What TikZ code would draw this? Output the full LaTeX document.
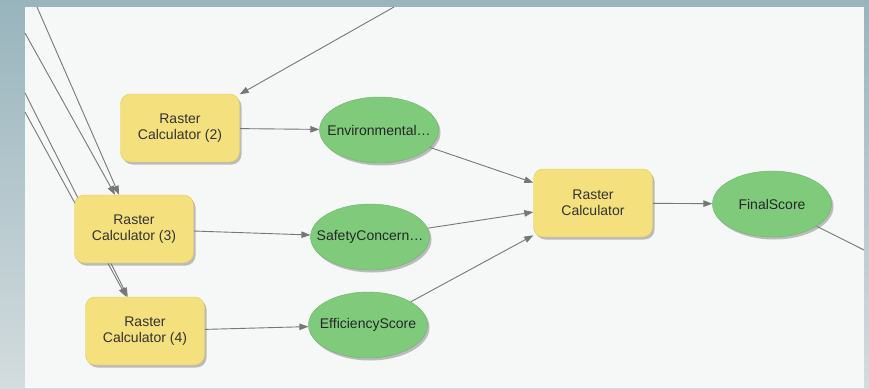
\documentclass[tikz,border=0pt]{standalone}
\usepackage{fontspec}
\setmainfont{Liberation Sans}
\usetikzlibrary{shapes.geometric,arrows.meta,shadows}
\pgfdeclarelayer{frame}
\pgfdeclarelayer{edges}
\pgfsetlayers{frame,edges,main}
\definecolor{calcfill}{HTML}{F4E07C}
\definecolor{calcline}{HTML}{E0C95C}
\definecolor{datafill}{HTML}{7FCB7B}
\definecolor{dataline}{HTML}{6AB566}
\definecolor{linkgray}{HTML}{777777}
\definecolor{paper}{HTML}{F6F7F7}
\definecolor{frametop}{HTML}{98B4BD}
\definecolor{framebot}{HTML}{D3DCDE}
% ellipse label that does not widen its ellipse
\newcommand{\datalabel}[1]{\makebox[0pt][c]{#1}}

\begin{document}
\begin{tikzpicture}[x=1pt, y=-1pt,
    font=\fontsize{14}{16}\selectfont,
    tool/.style={rectangle, rounded corners=10pt, fill=calcfill, draw=calcline,
        align=center, minimum width=119pt, minimum height=68pt, text=black!80,
        drop shadow={shadow xshift=2pt, shadow yshift=-2.5pt, fill=black!50, opacity=0.5}},
    data/.style={ellipse, fill=datafill, draw=dataline, inner sep=0pt,
        minimum width=119pt, minimum height=66pt, text=black!85,
        drop shadow={shadow xshift=2pt, shadow yshift=-2.5pt, fill=black!50, opacity=0.5}},
    link/.style={draw=linkgray, line width=0.9pt, -{Triangle[length=9pt,width=6.5pt]}},
    tail/.style={draw=linkgray, line width=0.9pt}]
    \useasboundingbox (0,0) rectangle (869,388);

    % frame and model panel
    \begin{pgfonlayer}{frame}
        \shade[top color=frametop, bottom color=framebot] (0,0) rectangle (869,388);
        \fill[paper] (25,7) rectangle (864,388);
    \end{pgfonlayer}

    \node[tool] (calc2) at (180,128) {Raster\\Calculator (2)};
    \node[tool] (calc3) at (134,229) {Raster\\Calculator (3)};
    \node[tool] (calc4) at (145,331) {Raster\\Calculator (4)};
    \node[data] (env) at (379,130) {\datalabel{Environmental…}};
    \node[data] (safety) at (370,237) {\datalabel{SafetyConcern…}};
    \node[data] (eff) at (368,325) {\datalabel{EfficiencyScore}};
    \node[tool] (calc) at (593,203) {Raster\\Calculator};
    \node[data] (final) at (772,204) {\datalabel{FinalScore}};

    % inputs coming from outside the view
    \coordinate (inA) at (37,7);
    \coordinate (inB) at (25,33);
    \coordinate (inC) at (25,93);
    \coordinate (inD) at (25,112);
    \coordinate (inE) at (394,7);
    \coordinate (out) at (864,250);

    \begin{pgfonlayer}{edges}
        \draw[link] (inA) -- (calc3);
        \draw[link] (inB) -- (calc3);
        \draw[link] (inC) -- (calc4);
        \draw[link] (inD) -- (calc4);
        \draw[link] (inE) -- (calc2);

        \draw[link] (calc2) -- (env);
        \draw[link] (calc3) -- (safety);
        \draw[link] (calc4) -- (eff);

        \draw[link] (env) -- (calc);
        \draw[link] (safety) -- (calc);
        \draw[link] (eff) -- (calc);
        \draw[link] (calc) -- (final);
        \draw[tail] (final) -- (out);
    \end{pgfonlayer}
\end{tikzpicture}
\end{document}
